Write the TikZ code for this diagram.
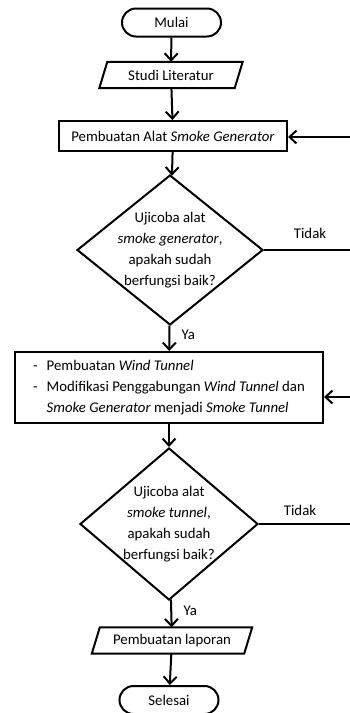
\documentclass[tikz,border=0pt]{standalone}
\usepackage{fontspec}
\setmainfont{Carlito}
\usetikzlibrary{shapes.geometric,arrows.meta}

\begin{document}
\begin{tikzpicture}[x=1pt,y=1pt,yscale=-1,xscale=1,
    every node/.style={font=\fontsize{14.8}{21}\selectfont},
    terminal/.style={draw,line width=2pt,rounded corners=14pt,minimum width=99,minimum height=28,inner sep=0pt},
    inout/.style={inner sep=0pt,minimum height=26,
      append after command={\pgfextra{\draw [line width=2pt]
        ([xshift=4pt]\tikzlastnode.north west) -- ([xshift=4pt]\tikzlastnode.north east) --
        ([xshift=-4pt]\tikzlastnode.south east) -- ([xshift=-4pt]\tikzlastnode.south west) -- cycle;}}},
    process/.style={draw,line width=2pt,inner sep=0pt},
    decision/.style={draw,line width=2pt,diamond,inner sep=0pt},
    line/.style={line width=2pt,-{Straight Barb[length=7pt,width=13pt]}}]
    \useasboundingbox (0,0) rectangle (349,713);

    % Terminal
    \node [terminal] (mulai) at (171.5,22.5) {Mulai};
    % Input
    \node [inout,minimum width=135] (studi) at (171,75) {Studi Literatur};
    % Process
    \node [process,minimum width=228,minimum height=30] (alat) at (173,136) {Pembuatan Alat \textit{Smoke Generator}};
    % Decision
    \node [decision,minimum width=186,minimum height=150] (uji1) at (170,250) {};
    \node [align=center] (uji1t) at (uji1) {Ujicoba alat\\\textit{smoke generator},\\apakah sudah\\berfungsi baik?};
    % Process
    \node [process,minimum width=308,minimum height=71] (tunnel) at (169,387.5) {\begin{tabular}{@{}l@{\hspace{9pt}}l@{}}
        - & Pembuatan \textit{Wind Tunnel}\\
        - & Modifikasi Penggabungan \textit{Wind Tunnel} dan\\
          & \textit{Smoke Generator} menjadi \textit{Smoke Tunnel}
      \end{tabular}};
    % Decision
    \node [decision,minimum width=178,minimum height=152] (uji2) at (169,524) {};
    \node [align=center] (uji2t) at (uji2) {Ujicoba alat\\\textit{smoke tunnel},\\apakah sudah\\berfungsi baik?};
    % Input
    \node [inout,minimum width=152] (laporan) at (172,640.5) {Pembuatan laporan};
    % Terminal
    \node [terminal] (selesai) at (169,700) {Selesai};

    % Loop ends (outside the page)
    \coordinate (r1) at (353,137);
    \coordinate (r2) at (353,397);

    % Straight Lines
    \draw [line] (mulai) -- (studi);
    \draw [line] (studi) -- (alat);
    \draw [line] (alat) -- (uji1);
    \draw [line] (uji1) -- (tunnel) node [pos=0.35,right=8pt] (ya1) {Ya};
    \draw [line] (tunnel) -- (uji2);
    \draw [line] (uji2) -- (laporan) node [pos=0.4,right=8pt] (ya2) {Ya};
    \draw [line] (laporan) -- (selesai);
    \draw [line] (uji1.east) -| (r1) -- (alat.east |- r1);
    \draw [line] (uji2.east) -| (r2) -- (tunnel.east |- r2);

    % Text Node
    \node (tidak1) at (310,233) {Tidak};
    \node (tidak2) at (300,510) {Tidak};
\end{tikzpicture}
\end{document}
